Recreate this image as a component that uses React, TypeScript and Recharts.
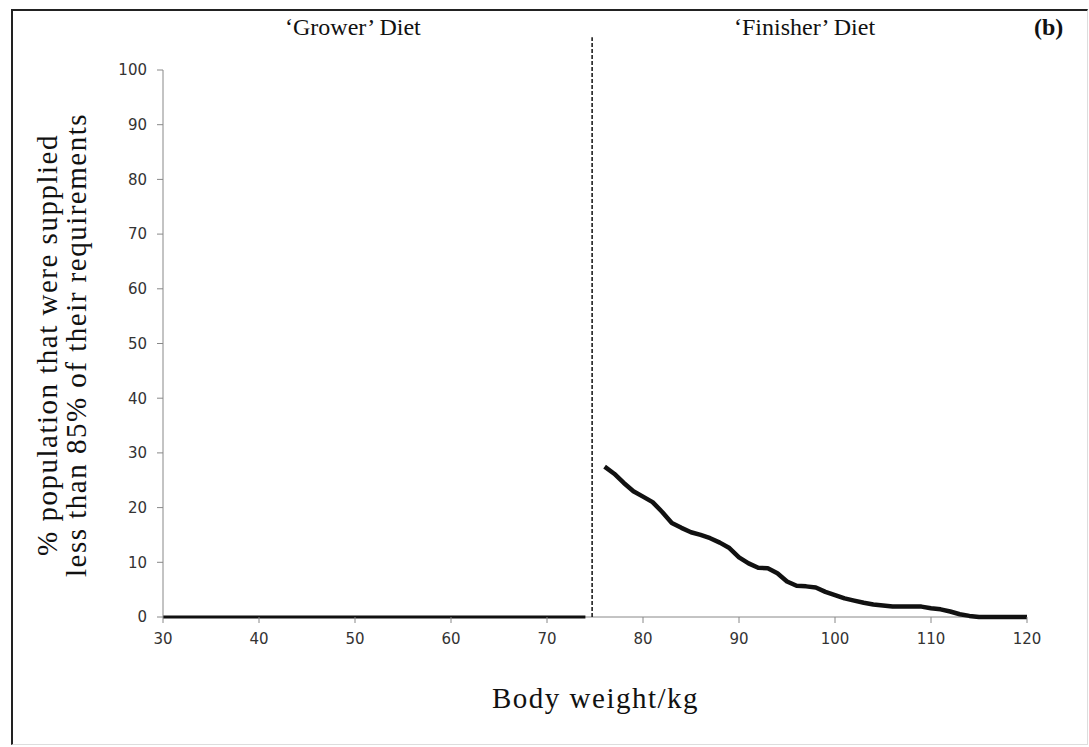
import { LineChart, Line, XAxis, YAxis, ReferenceLine } from "recharts";

// body weight (kg) and % of pigs supplied < 85% of requirements
const growerWeights = [30, 74];
const growerPct = [0, 0];

const finisherWeights = [
  76, 77, 78, 79, 80, 81, 82, 83, 84, 85, 86, 87, 88, 89, 90, 91, 92, 93, 94, 95,
  96, 97, 98, 99, 100, 101, 102, 103, 104, 105, 106, 107, 108, 109, 110, 111, 112,
  113, 114, 115, 116, 117, 118, 119, 120,
];
const finisherPct = [
  27.5, 26.2, 24.5, 23.0, 22.0, 21.0, 19.2, 17.2, 16.3, 15.5, 15.0, 14.4, 13.6,
  12.6, 10.9, 9.8, 9.0, 8.9, 8.0, 6.5, 5.7, 5.6, 5.4, 4.6, 4.0, 3.4, 3.0, 2.6, 2.3,
  2.1, 1.9, 1.9, 1.9, 1.9, 1.6, 1.4, 1.0, 0.5, 0.2, 0, 0, 0, 0, 0, 0,
];

const xTicks = [30, 40, 50, 60, 70, 80, 90, 100, 110, 120];
const yTicks = [0, 10, 20, 30, 40, 50, 60, 70, 80, 90, 100];
const dietSwitch = 74.7;

const grower = growerWeights.map((w, i) => ({ w, pct: growerPct[i] }));
const finisher = finisherWeights.map((w, i) => ({ w, pct: finisherPct[i] }));

const serif = "'Liberation Serif', 'Times New Roman', serif";
const tickStyle = { fontSize: 15, fill: "#333", fontFamily: "'DejaVu Sans', sans-serif" };

export default function App() {
  return (
    <div style={{ position: "absolute", left: 0, top: 0, width: 1089, height: 747, background: "#fff", fontFamily: serif }}>
      <div
        style={{
          position: "absolute", left: 11, top: 9, width: 1074, height: 733,
          borderTop: "2px solid #222", borderLeft: "2px solid #222",
          borderRight: "1px solid #ddd", borderBottom: "1px solid #ddd",
        }}
      />
      <LineChart
        width={1089}
        height={747}
        margin={{ top: 70, right: 62, bottom: 100, left: 103 }}
        style={{ position: "absolute", left: 0, top: 0 }}
      >
        <XAxis
          type="number"
          dataKey="w"
          domain={[30, 120]}
          ticks={xTicks}
          height={30}
          stroke="#888"
          axisLine={false}
          tick={tickStyle}
          tickMargin={10}
          allowDuplicatedCategory={false}
        />
        <YAxis
          type="number"
          dataKey="pct"
          domain={[0, 100]}
          ticks={yTicks}
          width={60}
          stroke="#888"
          tick={tickStyle}
          tickMargin={10}
        />
        {/* x axis baseline, kept under the series */}
        <ReferenceLine y={0} stroke="#888" strokeWidth={1} />
        <ReferenceLine
          segment={[{ x: dietSwitch, y: 0 }, { x: dietSwitch, y: 106 }]}
          ifOverflow="visible"
          stroke="#111"
          strokeWidth={1.5}
          strokeDasharray="4 2"
        />
        <Line data={grower} dataKey="pct" stroke="#111" strokeWidth={3} dot={false} isAnimationActive={false} />
        <Line data={finisher} dataKey="pct" stroke="#111" strokeWidth={4.5} dot={false} isAnimationActive={false} strokeLinejoin="round" />
      </LineChart>
      <div style={{ position: "absolute", left: 285, top: 14, fontSize: 24, color: "#111" }}>‘Grower’ Diet</div>
      <div style={{ position: "absolute", left: 734, top: 14, fontSize: 24, color: "#111" }}>‘Finisher’ Diet</div>
      <div style={{ position: "absolute", left: 1034, top: 14, fontSize: 24, fontWeight: "bold", color: "#111" }}>(b)</div>
      <div style={{ position: "absolute", left: 492, top: 682, fontSize: 29, letterSpacing: 1.5, color: "#111" }}>Body weight/kg</div>
      <div
        style={{
          position: "absolute", left: 62, top: 345, width: 560, fontSize: 29, lineHeight: "29px",
          letterSpacing: 1.5, color: "#111", textAlign: "center", whiteSpace: "nowrap",
          transform: "translate(-50%, -50%) rotate(-90deg)",
        }}
      >
        % population that were supplied
        <br />
        less than 85% of their requirements
      </div>
    </div>
  );
}
